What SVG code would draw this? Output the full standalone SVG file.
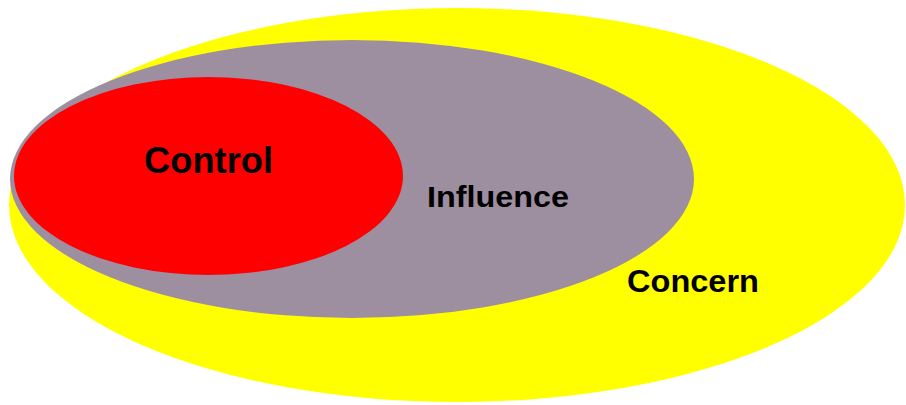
<svg xmlns="http://www.w3.org/2000/svg" width="906" height="405" viewBox="0 0 906 405">
  <style>
    .lbl { font-family: "Liberation Sans", Arial, sans-serif; font-weight: bold; fill: #000; }
  </style>
  <rect width="906" height="405" fill="#fff"/>
  <g id="concern">
    <ellipse cx="457" cy="205" rx="448" ry="197" fill="#ffff00"/>
    <text class="lbl" x="627" y="292" font-size="32" textLength="132" lengthAdjust="spacingAndGlyphs">Concern</text>
  </g>
  <g id="influence">
    <ellipse cx="352" cy="179" rx="342" ry="139" fill="#9e8fa0"/>
    <text class="lbl" x="427" y="207" font-size="30" textLength="142" lengthAdjust="spacingAndGlyphs">Influence</text>
  </g>
  <g id="control">
    <ellipse cx="208.5" cy="176" rx="194.5" ry="99" fill="#ff0000"/>
    <text class="lbl" x="144" y="173" font-size="36" textLength="129" lengthAdjust="spacingAndGlyphs">Control</text>
  </g>
  <g id="connectors"/>
</svg>
